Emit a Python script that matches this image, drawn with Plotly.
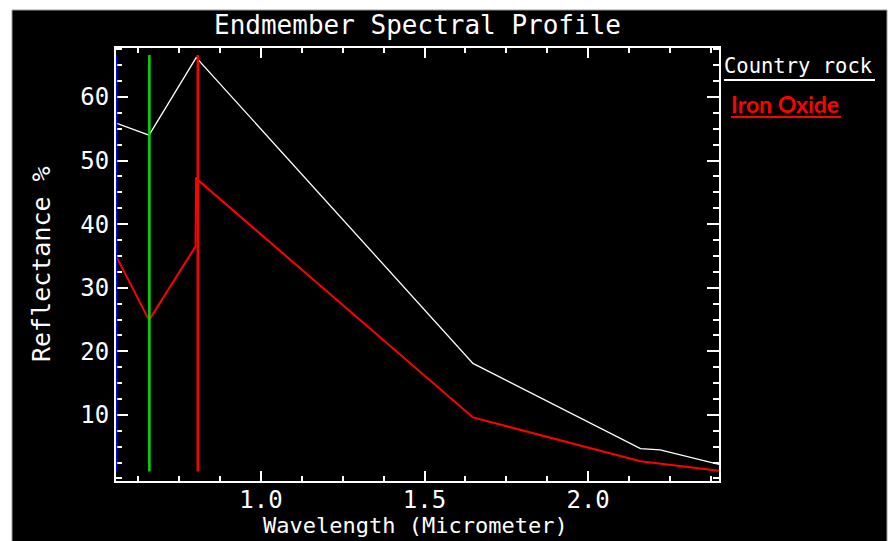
import plotly.graph_objects as go

# ---- data ----
rock_wavelength = [0.557, 0.658, 0.802, 1.648, 2.16, 2.22, 2.40]
country_rock = [55.9, 54.0, 66.2, 18.1, 4.7, 4.5, 2.2]

iron_wavelength = [0.557, 0.658, 0.800, 0.802, 0.803, 0.806, 1.648, 2.16, 2.40]
iron_oxide = [35.0, 24.9, 36.5, 47.4, 42.2, 47.0, 9.6, 2.7, 1.2]

band_wavelength = [0.557, 0.659, 0.807]   # blue, green, red band markers
band_colors = ["#0000ff", "#00e000", "#ff0000"]
band_y = [1.1, 66.6]

x_tickvals = [1.0, 1.5, 2.0]
x_ticktext = ["1.0", "1.5", "2.0"]
y_tickvals = [10, 20, 30, 40, 50, 60]
y_ticktext = ["10", "20", "30", "40", "50", "60"]

MONO = "DejaVu Sans Mono"

fig = go.Figure()

fig.add_trace(go.Scatter(x=rock_wavelength, y=country_rock, mode="lines",
                         line=dict(color="#ffffff", width=1.3), name="Country rock"))
fig.add_trace(go.Scatter(x=iron_wavelength, y=iron_oxide, mode="lines",
                         line=dict(color="#ff0000", width=2), name="Iron Oxide"))
for wl, col in zip(band_wavelength, band_colors):
    fig.add_trace(go.Scatter(x=[wl, wl], y=band_y, mode="lines",
                             line=dict(color=col, width=2.5), showlegend=False))

# plot-area geometry in pixels
L, R, T, B = 116, 719, 48, 481
W, H = R - L, B - T


def px(x):
    return (x - L) / W


def py(y):
    return (B - y) / H


shapes = [
    # black background panel with thin grey border
    dict(type="rect", xref="paper", yref="paper", layer="below",
         x0=px(12), x1=px(887), y0=py(545), y1=py(10),
         fillcolor="#000000", line=dict(color="#9a9a9a", width=1)),
    # legend underlines
    dict(type="line", xref="paper", yref="paper",
         x0=px(724), x1=px(875), y0=py(80), y1=py(80),
         line=dict(color="#ffffff", width=2)),
    dict(type="line", xref="paper", yref="paper",
         x0=px(731), x1=px(841), y0=py(117), y1=py(117),
         line=dict(color="#ff0000", width=2)),
]

annotations = [
    dict(text="Endmember Spectral Profile", xref="paper", yref="paper",
         x=px(417), y=py(25), xanchor="center", yanchor="middle", showarrow=False,
         font=dict(family=MONO, size=26, color="#ffffff")),
    dict(text="Wavelength (Micrometer)", xref="paper", yref="paper",
         x=px(415), y=py(525), xanchor="center", yanchor="middle", showarrow=False,
         font=dict(family=MONO, size=22, color="#ffffff")),
    dict(text="Reflectance %", xref="paper", yref="paper",
         x=px(41), y=py(264), xanchor="center", yanchor="middle", showarrow=False,
         textangle=-90, font=dict(family=MONO, size=25, color="#ffffff")),
    dict(text="Country rock", xref="paper", yref="paper",
         x=px(722), y=py(66), xanchor="left", yanchor="middle", showarrow=False,
         font=dict(family=MONO, size=20.5, color="#ffffff")),
    dict(text="<b>Iron Oxide</b>", xref="paper", yref="paper",
         x=px(729), y=py(104), xanchor="left", yanchor="middle", showarrow=False,
         font=dict(family="Lato", size=23, color="#ff0000")),
]

axis_common = dict(
    showgrid=False, zeroline=False, showline=True, linecolor="#ffffff", linewidth=2,
    mirror="ticks", ticks="inside", tickcolor="#ffffff", tickwidth=2,
    layer="below traces",
    tickfont=dict(family=MONO, size=24, color="#ffffff"),
)

fig.update_layout(
    width=890, height=541,
    margin=dict(l=L, r=890 - R, t=T, b=541 - B, autoexpand=False),
    paper_bgcolor="#ffffff", plot_bgcolor="#000000",
    showlegend=False, hovermode=False,
    shapes=shapes, annotations=annotations,
    xaxis=dict(**axis_common, range=[0.557, 2.40], tickvals=x_tickvals, ticktext=x_ticktext,
               ticklen=10, ticklabelstandoff=-4,
               minor=dict(ticks="inside", ticklen=5, tick0=0.5, dtick=0.125,
                          tickcolor="#ffffff", tickwidth=2, showgrid=False)),
    yaxis=dict(**axis_common, range=[-0.4, 67.7], tickvals=y_tickvals, ticktext=y_ticktext,
               ticklen=12,
               minor=dict(ticks="inside", ticklen=6, tick0=0, dtick=2.5,
                          tickcolor="#ffffff", tickwidth=2, showgrid=False)),
)

fig.write_html("out.html", config={"displayModeBar": False},
               post_script="document.body.style.margin='0';document.body.style.overflow='hidden';")
